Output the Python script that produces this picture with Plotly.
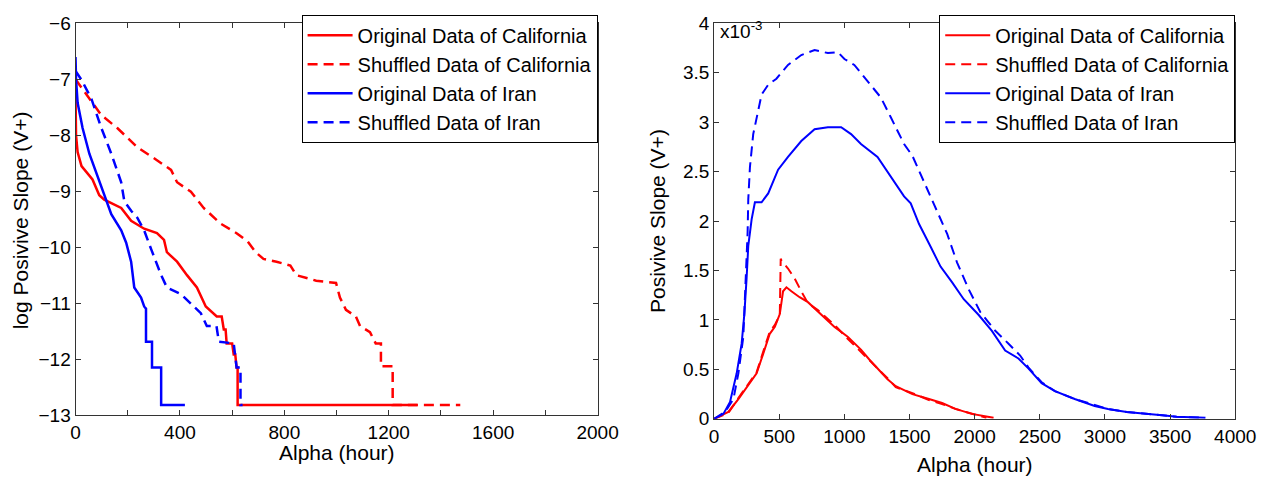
import plotly.graph_objects as go

# ---------------- Left panel data: log Positive Slope (V+) vs Alpha ----------------
cal_orig_alpha = [0, 2, 8, 23, 65, 91, 110, 175, 213, 263, 312, 339, 350, 389, 427, 465,
                  499, 541, 560, 568, 575, 579, 600, 606, 612, 617, 621, 621, 1310]
cal_orig_logv = [-7.3, -8.0, -8.3, -8.55, -8.79, -9.07, -9.15, -9.3, -9.53, -9.67, -9.75, -9.87,
                 -10.09, -10.26, -10.5, -10.72, -11.06, -11.24, -11.24, -11.47, -11.47, -11.72,
                 -11.72, -11.92, -11.92, -12.15, -12.15, -12.82, -12.82]

cal_shuf_alpha = [0, 46, 99, 160, 236, 301, 366, 389, 442, 491, 556, 617, 660, 690, 720, 770,
                  823, 846, 922, 998, 1013, 1036, 1074, 1090, 1128, 1150, 1170, 1170, 1215,
                  1215, 1474]
cal_shuf_logv = [-7.0, -7.3, -7.64, -7.87, -8.21, -8.41, -8.62, -8.84, -9.01, -9.3, -9.58, -9.75,
                 -9.9, -10.09, -10.21, -10.26, -10.33, -10.5, -10.6, -10.64, -10.9, -11.12,
                 -11.24, -11.41, -11.52, -11.72, -11.72, -12.13, -12.13, -12.82, -12.82]

iran_orig_alpha = [0, 2, 8, 27, 53, 84, 110, 137, 175, 194, 213, 225, 251, 263, 270, 270,
                   293, 293, 328, 328, 419]
iran_orig_logv = [-6.6, -7.0, -7.42, -7.87, -8.33, -8.72, -9.07, -9.41, -9.70, -9.92, -10.26,
                  -10.72, -10.9, -11.06, -11.1, -11.69, -11.69, -12.15, -12.15, -12.82, -12.82]

iran_shuf_alpha = [0, 23, 61, 99, 137, 175, 187, 213, 236, 263, 290, 328, 350, 404, 442, 480,
                   503, 540, 549, 606, 617, 632, 632, 640]
iran_shuf_logv = [-6.85, -7.01, -7.35, -7.87, -8.33, -8.84, -9.18, -9.35, -9.47, -9.70, -10.04,
                  -10.5, -10.72, -10.84, -11.01, -11.18, -11.41, -11.41, -11.69, -11.72, -12.15,
                  -12.15, -12.82, -12.82]

# ---------------- Right panel data: Positive Slope (V+) in units of 1e-3 ----------------
r_cal_orig_alpha = [0, 109, 186, 275, 326, 377, 427, 466, 504, 529, 555, 593, 656, 720, 796,
                    924, 1025, 1127, 1191, 1260, 1331, 1394, 1522, 1649, 1750, 1852, 1979,
                    2100, 2145]
r_cal_orig_v = [0, 0.07, 0.2, 0.36, 0.46, 0.66, 0.86, 0.93, 1.06, 1.29, 1.33, 1.29, 1.23, 1.18,
                1.09, 0.93, 0.83, 0.70, 0.60, 0.50, 0.40, 0.33, 0.25, 0.20, 0.16, 0.10, 0.05,
                0.02, 0.01]

r_cal_shuf_alpha = [0, 109, 186, 275, 326, 377, 427, 466, 504, 511, 517, 567, 618, 669, 695,
                    720, 796, 924, 1025, 1127, 1191, 1260, 1331, 1394, 1522, 1649, 1750, 1852,
                    1979, 2090]
r_cal_shuf_v = [0, 0.06, 0.21, 0.37, 0.47, 0.68, 0.88, 0.95, 1.05, 1.62, 1.60, 1.52, 1.42, 1.29,
                1.23, 1.17, 1.10, 0.95, 0.81, 0.68, 0.59, 0.51, 0.41, 0.32, 0.26, 0.19, 0.15,
                0.10, 0.05, 0.01]

r_iran_orig_alpha = [0, 71, 122, 173, 211, 232, 249, 262, 288, 313, 364, 415, 491, 567, 669,
                     771, 873, 975, 1051, 1127, 1254, 1356, 1458, 1509, 1573, 1662, 1738, 1827,
                     1916, 2031, 2132, 2234, 2336, 2412, 2514, 2616, 2768, 2921, 3023, 3167,
                     3300, 3440, 3550, 3650, 3770]
r_iran_orig_v = [0, 0.05, 0.17, 0.46, 0.76, 1.06, 1.42, 1.75, 2.02, 2.19, 2.19, 2.28, 2.52, 2.65,
                 2.81, 2.93, 2.95, 2.95, 2.88, 2.78, 2.65, 2.45, 2.25, 2.18, 1.97, 1.74, 1.54,
                 1.38, 1.21, 1.05, 0.89, 0.69, 0.61, 0.51, 0.36, 0.28, 0.20, 0.13, 0.10, 0.07,
                 0.05, 0.035, 0.02, 0.015, 0.01]

r_iran_shuf_alpha = [0, 84, 148, 186, 224, 237, 249, 257, 262, 275, 300, 326, 364, 415, 478,
                     567, 669, 771, 873, 949, 1000, 1076, 1178, 1280, 1356, 1458, 1522, 1611,
                     1700, 1789, 1865, 1954, 2043, 2158, 2260, 2349, 2412, 2514, 2616, 2768,
                     2921, 3023, 3167, 3300, 3440, 3550, 3650, 3770]
r_iran_shuf_v = [0, 0.07, 0.2, 0.46, 0.83, 1.19, 1.62, 1.89, 2.22, 2.55, 2.88, 3.05, 3.28, 3.38,
                 3.44, 3.58, 3.68, 3.73, 3.70, 3.71, 3.64, 3.58, 3.41, 3.25, 3.05, 2.78, 2.66,
                 2.40, 2.13, 1.87, 1.58, 1.31, 1.08, 0.89, 0.76, 0.64, 0.52, 0.37, 0.28, 0.20,
                 0.14, 0.10, 0.07, 0.05, 0.035, 0.02, 0.015, 0.01]

names = ["Original Data of California", "Shuffled Data of California",
         "Original Data of Iran", "Shuffled Data of Iran"]
colors = ["#ff0000", "#ff0000", "#0000ff", "#0000ff"]
dashes = ["solid", "10px,6px", "solid", "10px,6px"]

left_x_ticks = [0, 200, 400, 600, 800, 1000, 1200, 1400, 1600, 1800, 2000]
left_x_ticktext = ["0", "", "400", "", "800", "", "1200", "", "1600", "", "2000"]
left_y_ticks = [-13, -12, -11, -10, -9, -8, -7, -6]
right_x_ticks = [0, 500, 1000, 1500, 2000, 2500, 3000, 3500, 4000]
right_y_ticks = [0, 0.5, 1, 1.5, 2, 2.5, 3, 3.5, 4]
right_y_ticktext = ["0", "0.5", "1", "1.5", "2", "2.5", "3", "3.5", "4"]

W, H = 1267, 493
FONT = "Liberation Sans, Arial, sans-serif"

fig = go.Figure()

left_sets = [(cal_orig_alpha, cal_orig_logv), (cal_shuf_alpha, cal_shuf_logv),
             (iran_orig_alpha, iran_orig_logv), (iran_shuf_alpha, iran_shuf_logv)]
right_sets = [(r_cal_orig_alpha, r_cal_orig_v), (r_cal_shuf_alpha, r_cal_shuf_v),
              (r_iran_orig_alpha, r_iran_orig_v), (r_iran_shuf_alpha, r_iran_shuf_v)]

for i, (xs, ys) in enumerate(left_sets):
    fig.add_trace(go.Scatter(x=xs, y=ys, mode="lines", name=names[i],
                             line=dict(color=colors[i], width=2.5, dash=dashes[i]),
                             xaxis="x", yaxis="y", legend="legend", legendgroup="L%d" % i))
for i, (xs, ys) in enumerate(right_sets):
    fig.add_trace(go.Scatter(x=xs, y=ys, mode="lines", name=names[i],
                             line=dict(color=colors[i], width=2, dash=dashes[i]),
                             xaxis="x2", yaxis="y2", legend="legend2", legendgroup="R%d" % i))

px = lambda v: v / W
py = lambda v: 1 - v / H

axis_common = dict(showline=True, linecolor="#333333", linewidth=1, mirror="ticks",
                   ticks="inside", ticklen=5, tickcolor="#333333", showgrid=False,
                   zeroline=False, tickfont=dict(family=FONT, size=19, color="#000000"))

L_LEFT, L_RIGHT, L_TOP, L_BOT = 72, 605, 14, 423
R_LEFT, R_RIGHT, R_TOP, R_BOT = 724, 1256, 14, 427

fig.update_layout(
    width=W, height=H, margin=dict(l=0, r=0, t=0, b=0),
    paper_bgcolor="white", plot_bgcolor="white",
    font=dict(family=FONT, size=20, color="#000000"),
    xaxis=dict(domain=[px(L_LEFT), px(L_RIGHT)], range=[0, 2000], tickvals=left_x_ticks,
               ticktext=left_x_ticktext, anchor="y", **axis_common),
    yaxis=dict(domain=[py(L_BOT), py(L_TOP)], range=[-13, -6], tickvals=left_y_ticks,
               anchor="x", **axis_common),
    xaxis2=dict(domain=[px(R_LEFT), px(R_RIGHT)], range=[0, 4000], tickvals=right_x_ticks,
                anchor="y2", **axis_common),
    yaxis2=dict(domain=[py(R_BOT), py(R_TOP)], range=[0, 4], tickvals=right_y_ticks,
                ticktext=right_y_ticktext, anchor="x2", **axis_common),
    legend=dict(x=px(L_RIGHT), xanchor="right", y=py(L_TOP - 9), yanchor="top",
                bgcolor="white", bordercolor="#000000", borderwidth=1,
                font=dict(family=FONT, size=20), tracegroupgap=0, itemwidth=45),
    legend2=dict(x=px(R_RIGHT), xanchor="right", y=py(R_TOP - 9), yanchor="top",
                 bgcolor="white", bordercolor="#000000", borderwidth=1,
                 font=dict(family=FONT, size=20), tracegroupgap=0, itemwidth=45),
    annotations=[
        dict(text="Alpha (hour)", x=px((L_LEFT + L_RIGHT) / 2), y=py(462), xref="paper",
             yref="paper", showarrow=False, xanchor="center", yanchor="middle",
             font=dict(size=21)),
        dict(text="Alpha (hour)", x=px((R_LEFT + R_RIGHT) / 2), y=py(475), xref="paper",
             yref="paper", showarrow=False, xanchor="center", yanchor="middle",
             font=dict(size=21)),
        dict(text="log Posivive Slope (V+)", x=px(16), y=py(220), xref="paper", yref="paper",
             showarrow=False, textangle=-90, xanchor="center", yanchor="middle",
             font=dict(size=21)),
        dict(text="Posivive Slope (V+)", x=px(666), y=py(220), xref="paper", yref="paper",
             showarrow=False, textangle=-90, xanchor="center", yanchor="middle",
             font=dict(size=21)),
        dict(text="x10<sup>-3</sup>", x=px(R_LEFT + 4), y=py(6), xref="paper", yref="paper",
             showarrow=False, xanchor="left", yanchor="top", font=dict(size=19)),
    ],
)

fig.write_html("out.html")
